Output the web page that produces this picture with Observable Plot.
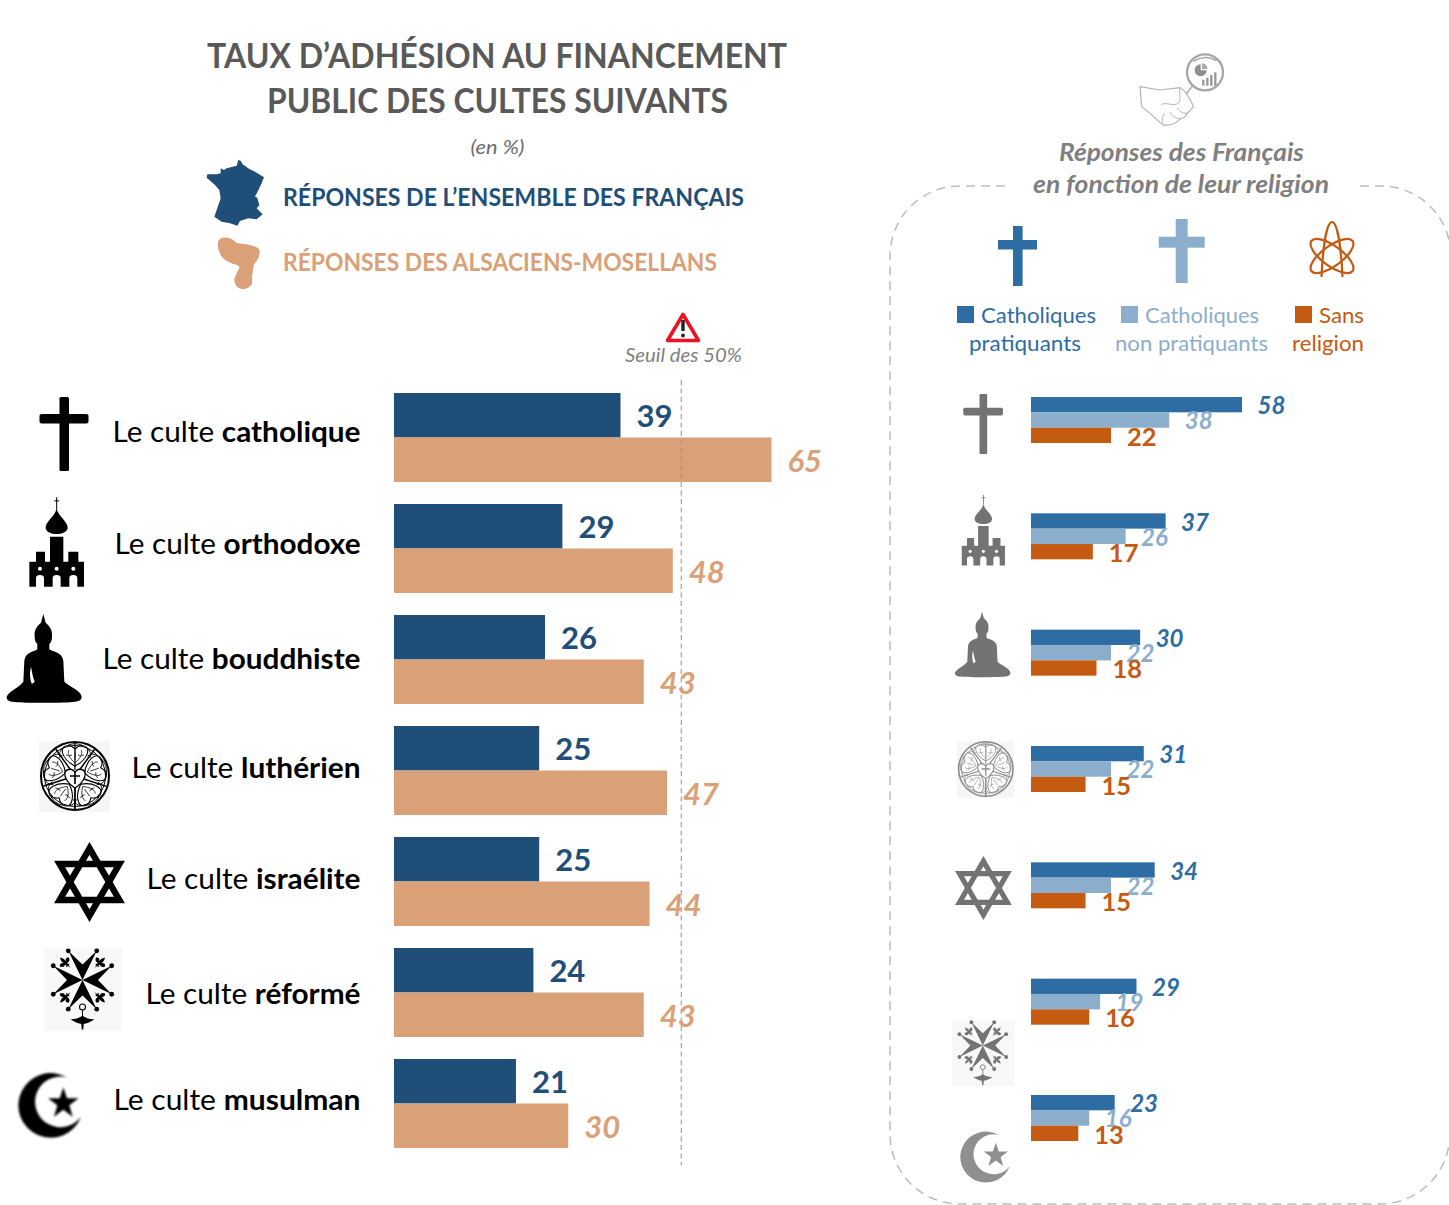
<!DOCTYPE html>
<html lang="fr">
<head>
<meta charset="utf-8">
<script src="https://cdn.jsdelivr.net/npm/d3@7"></script>
<script src="https://cdn.jsdelivr.net/npm/@observablehq/plot@0.6"></script>
<style>
html,body{margin:0;padding:0;background:#fff;}
#stage{position:relative;width:1449px;height:1205px;overflow:hidden;font-family:Lato,sans-serif;}
#stage>svg,#stage>div{position:absolute;left:0;top:0;}
</style>
</head>
<body>
<div id="stage"></div>
<script>
// ---------- data ----------
const cultes = ["catholique","orthodoxe","bouddhiste","luthérien","israélite","réformé","musulman"];
const ensembleFrancais = [39,29,26,25,25,24,21];
const alsaciensMosellans = [65,48,43,47,44,43,30];
const catholiquesPratiquants = [58,37,30,31,34,29,23];
const catholiquesNonPratiquants = [38,26,22,22,22,19,16];
const sansReligion = [22,17,18,15,15,16,13];
const seuil = [50];

const DARK="#1F4E79", TAN="#DAA077", BLUE="#2E6DA4", LIGHT="#8BAECD", ORANGE="#C55A11";
const FONT="Lato, sans-serif";
const stage=document.getElementById("stage");

// ---------- left chart ----------
const rowsFr = cultes.map((c,i)=>({c,v:ensembleFrancais[i]}));
const rowsAl = cultes.map((c,i)=>({c,v:alsaciensMosellans[i]}));
const rowLabels = cultes.map(c=>({c,label:"Le culte "+c}));
const yLeft={type:"band",domain:cultes,range:[393,1148],paddingInner:22/111,paddingOuter:0,align:0,round:false,axis:null};
const labelShift=[-5,-4,0,-2,-2,2,-3];
const labelWidth=[248,246,258,229,214,215,247];

const left=Plot.plot({
  width:1449,height:1205,marginTop:380,marginBottom:40,marginLeft:0,marginRight:0,
  style:{background:"transparent",fontFamily:FONT,overflow:"visible"},
  x:{domain:[0,65],range:[394,771.5],axis:null},
  y:yLeft,
  marks:[
    Plot.barX(rowsFr,{x:"v",y:"c",fill:DARK,insetBottom:44.5}),
    Plot.barX(rowsAl,{x:"v",y:"c",fill:TAN,insetTop:44.5}),
    Plot.ruleX(seuil,{x:d=>d,stroke:"#9a9a9a",strokeWidth:1.1,strokeDasharray:"5 3.5",dx:-3.6}),
    Plot.text(rowsFr,{x:"v",y:"c",text:d=>String(d.v),fill:DARK,textAnchor:"start",dx:15.5,dy:-20.5,fontSize:31,fontWeight:700}),
    Plot.text(rowsAl,{x:"v",y:"c",text:d=>String(d.v),fill:TAN,textAnchor:"start",dx:15.5,dy:24.5,fontSize:31,fontWeight:700,fontStyle:"italic"}),
    ...rowLabels.map((d,i)=>Plot.text([d],{
      x:()=>0,y:"c",text:"label",fill:"#000",textAnchor:"end",dx:360-394,dy:labelShift[i],fontSize:29
    }))
  ]
});
stage.appendChild(left);
// bold religion name inside each row label
left.querySelectorAll('text').forEach(t=>{
  const s=t.textContent, k="Le culte ";
  if(!s.startsWith(k)) return;
  t.textContent="";
  const a=document.createElementNS("http://www.w3.org/2000/svg","tspan");a.textContent=k;
  const b=document.createElementNS("http://www.w3.org/2000/svg","tspan");b.textContent=s.slice(k.length);b.setAttribute("font-weight","700");
  t.append(a,b);
  const i=cultes.indexOf(s.slice(k.length));
  t.setAttribute("textLength",labelWidth[i]);t.setAttribute("lengthAdjust","spacingAndGlyphs");
});

// ---------- right chart ----------
const rowsP = cultes.map((c,i)=>({c,v:catholiquesPratiquants[i]}));
const rowsN = cultes.map((c,i)=>({c,v:catholiquesNonPratiquants[i]}));
const rowsS = cultes.map((c,i)=>({c,v:sansReligion[i]}));
const right=Plot.plot({
  width:1449,height:1205,marginTop:372,marginBottom:40,marginLeft:0,marginRight:0,
  style:{background:"transparent",fontFamily:FONT,overflow:"visible"},
  x:{domain:[0,58],range:[1031,1242],axis:null},
  y:{type:"band",domain:cultes,range:[397,1141],paddingInner:70.3/116.3,paddingOuter:0,align:0,round:false,axis:null},
  marks:[
    Plot.barX(rowsP,{x:"v",y:"c",fill:BLUE,insetBottom:30.7}),
    Plot.barX(rowsN,{x:"v",y:"c",fill:LIGHT,insetTop:15.3,insetBottom:15.3}),
    Plot.barX(rowsS,{x:"v",y:"c",fill:ORANGE,insetTop:30.7}),
    Plot.text(rowsP,{x:"v",y:"c",text:d=>String(d.v),fill:BLUE,textAnchor:"start",dx:15,dy:-14,fontSize:24,fontWeight:700,fontStyle:"italic"}),
    Plot.text(rowsN,{x:"v",y:"c",text:d=>String(d.v),fill:LIGHT,textAnchor:"start",dx:15,dy:1,fontSize:24,fontWeight:700,fontStyle:"italic"}),
    Plot.text(rowsS,{x:"v",y:"c",text:d=>String(d.v),fill:ORANGE,textAnchor:"start",dx:15.5,dy:17,fontSize:25.5,fontWeight:700})
  ]
});
stage.appendChild(right);

// ---------- decoration: texts and pictograms ----------
function txt(s,x,y,size,fill,o={}){
  const len=o.w?`textLength="${o.w}" lengthAdjust="spacingAndGlyphs"`:"";
  return `<text x="${x}" y="${y}" font-size="${size}" fill="${fill}" font-weight="${o.b?700:400}" font-style="${o.i?"italic":"normal"}" text-anchor="${o.a||"start"}" ${len}>${s}</text>`;
}
const ic={};
ic.cross=`<rect x="59.5" y="397" width="9.5" height="74" rx="1.5"/><rect x="39.5" y="414" width="49" height="9.5" rx="2"/>`;
ic.church=`<g transform="translate(0,380) scale(.3333)">
<path d="M88 620V545H108V515H135V545H150V470H190V545H205V515H235V545H252V620H232V595Q232 585 220 585Q208 585 208 595V620H182V595Q182 585 170 585Q158 585 158 595V620H132V595Q132 585 120 585Q108 585 108 595V620Z"/>
<path d="M170 385C174 410 205 425 203 445C200 468 140 468 137 445C135 425 166 410 170 385Z"/>
<rect x="168.5" y="352" width="3" height="36"/><rect x="163" y="361" width="14" height="3"/>
<circle cx="120" cy="566" r="6" fill="#fff"/><circle cx="170" cy="566" r="6" fill="#fff"/><circle cx="220" cy="566" r="6" fill="#fff"/></g>`;
ic.buddha=`<g transform="translate(0,380) scale(.3333)"><path fill-rule="evenodd" d="M130 702L137 728C148 738 158 748 156 770C156 782 152 788 148 792L148 808C160 816 186 816 190 842L193 905C205 918 242 930 245 950C245 966 230 968 130 968C30 968 20 966 20 950C25 935 58 922 70 905L73 842C77 816 100 816 112 808L112 792C108 788 104 782 104 770C102 748 112 738 123 728Z M93 860C88 880 90 900 96 912L104 905C98 890 96 875 93 860Z"/></g>`;
ic.luther=(()=>{let p="";
  for(let k=0;k<5;k++){const r=k*72;
    p+=`<g transform="rotate(${r} 75 776)" fill="none" stroke="currentColor">
    <path d="M75 776L94.5 749.5" stroke-width="1.5"/>
    <path d="M75 766C63 760 60 750 64 747C68 744 72 746 75 749C78 746 82 744 86 747C90 750 87 760 75 766Z" stroke-width="1.1"/>
    <path d="M75 763C69 758 67 752 69 750M75 763C81 758 83 752 81 750M75 760V751M66 755Q70 757 72 755M84 755Q80 757 78 755" stroke-width=".7"/>
    <path d="M63 748Q58 752 60 758M87 748Q92 752 90 758M68 745Q75 742 82 745" stroke-width=".8"/></g>`;}
  return `<rect x="39" y="741" width="71" height="71" fill="#f6f6f6"/><circle cx="75" cy="776" r="34" fill="#fff" stroke="currentColor" stroke-width="2"/><circle cx="75" cy="776" r="30.5" fill="none" stroke="currentColor" stroke-width="1"/>${p}<path d="M75 788C64 781 63 772 67 770C71 768 73 770 75 772C77 770 79 768 83 770C87 772 86 781 75 788Z" fill="#fff" stroke="currentColor" stroke-width="1.4"/><path d="M75 771V784M70 776H80" stroke="currentColor" stroke-width="1.6"/><path d="M75 742V770M75 788V810" stroke="currentColor" stroke-width="1.2"/>`;
})();
ic.star=`<g fill="none" stroke="currentColor" stroke-width="6.4"><path d="M89.5 848.4L119.4 900H59.6Z"/><path d="M89.5 915.6L119.4 864H59.6Z"/></g>`;
ic.huguenot=(()=>{let p="";
  const pol=(r,a)=>[r*Math.sin(a*Math.PI/180),-r*Math.cos(a*Math.PI/180)];
  for(const a of [0,90,180,270]){
    const t1=pol(32.5,a-26),n=pol(15.5,a),t2=pol(32.5,a+26);
    p+=`<path d="M0 0L${t1}L${n}L${t2}Z"/><circle cx="${t1[0]}" cy="${t1[1]}" r="2.4"/><circle cx="${t2[0]}" cy="${t2[1]}" r="2.4"/>`;
    const f=pol(24.5,a+45);
    p+=`<g transform="translate(${f}) rotate(${a+45}) scale(1.05)"><path d="M0 -7Q2.6 -3 1 -.5Q4 -4 6 -1Q5 2.5 1.2 1.6L.8 3H2V4H.6L0 7L-.6 4H-2V3H-.8L-1.2 1.6Q-5 2.5 -6 -1Q-4 -4 -1 -.5Q-2.6 -3 0 -7Z"/></g>`;
  }
  return `<rect x="44" y="948" width="78" height="83" fill="#f8f8f8"/><g transform="translate(82.5,980)">${p}<circle cy="27" r="3" fill="none" stroke="currentColor" stroke-width="1.1"/><path d="M0 30V36" stroke="currentColor" stroke-width="1"/><path transform="translate(0,42)" d="M-12 -2.5Q-4 -3 0 -6.5Q4 -3 12 -2.5Q5 1.5 1.2 2L.8 7.5L-.8 7.5L-1.2 2Q-5 1.5 -12 -2.5Z"/></g>`;
})();
ic.crescent=`<g transform="translate(0,800) scale(.3333)" filter="url(#soft)"><path d="M200 832A97 97 0 1 0 243 950A76 76 0 1 1 200 832Z"/><path d="M190 862L201 895L236 895L208 916L218 950L190 929L162 950L172 916L144 895L179 895Z"/></g>`;

const iconRows=[
 ["cross",.81,931.3,72.4,"#737373"],["church",.79,938.6,102.1,"#737373"],["buddha",.74,950,157.3,"#737373"],
 ["luther",.8,925.8,148.2,"#8a8a8a"],["star",.8,911.8,182.4,"#737373"],["huguenot",.8,916.8,261.6,"#737373"],["crescent",.79,945.8,283.8,"#8f8f8f"]
];
const leftIcons=Object.keys(ic).map(k=>`<g fill="currentColor" color="#000">${ic[k]}</g>`).join("");
const rightIcons=iconRows.map(([k,s,tx,ty,col])=>`<g fill="currentColor" color="${col}" transform="translate(${tx},${ty}) scale(${s})">${ic[k]}</g>`).join("");

const francePts=[[115,15],[122,17],[128,28],[148,42],[165,50],[192,67],[185,85],[178,100],[165,125],[172,128],[178,150],[170,160],[188,178],[170,193],[145,190],[120,198],[112,212],[90,205],[65,200],[43,185],[50,165],[62,130],[58,105],[45,90],[20,68],[22,58],[50,58],[62,55],[62,40],[72,45],[80,40],[110,32]];
const alsacePts=[[55,258],[68,248],[90,250],[112,264],[140,268],[177,283],[175,310],[163,328],[156,370],[155,388],[135,402],[113,397],[103,375],[112,350],[118,335],[95,325],[68,308],[56,285]];
const francePath=d3.line()(francePts)+"Z";
const alsacePath=d3.line().curve(d3.curveCatmullRomClosed)(alsacePts);

const overlay=`<svg xmlns="http://www.w3.org/2000/svg" width="1449" height="1205" style="font-family:${FONT}">
<defs><filter id="soft" x="-10%" y="-10%" width="120%" height="120%"><feGaussianBlur stdDeviation="3"/></filter></defs>
${txt("TAUX D’ADHÉSION AU FINANCEMENT",207,67.5,34,"#595959",{b:1,w:580})}
${txt("PUBLIC DES CULTES SUIVANTS",267,112.5,34,"#595959",{b:1,w:461})}
${txt("(en %)",497.5,154,19,"#6b6b6b",{i:1,a:"middle",w:54})}
<g transform="translate(200,155) scale(.3333)">
<path d="${francePath}" fill="${DARK}"/>
<path d="${alsacePath}" fill="${TAN}"/></g>
${txt("RÉPONSES DE L’ENSEMBLE DES FRANÇAIS",283,206,24,DARK,{b:1,w:461})}
${txt("RÉPONSES DES ALSACIENS-MOSELLANS",283,271,24,TAN,{b:1,w:434})}
<path d="M683 314.5L698.5 340.5H667.5Z" fill="#fff" stroke="#ee1122" stroke-width="3.6" stroke-linejoin="round"/>
<path d="M683 320V331" stroke="#222" stroke-width="3.4"/><circle cx="683" cy="335.5" r="1.9" fill="#222"/>
${txt("Seuil des 50%",625,362,19,"#7f7f7f",{i:1,w:117})}

<g transform="translate(1130,45) scale(.3333)" fill="none" stroke="#b4b4b4" stroke-width="3.5" stroke-linejoin="round" stroke-linecap="round">
<path d="M188 122L168 148" stroke-width="5"/>
<path d="M30 125L90 135L150 128C165 135 172 150 178 160L190 182C186 195 178 200 172 204C168 214 160 220 150 222C140 235 120 242 100 240C88 232 72 215 60 205L35 185Z" fill="#fff"/>
<path d="M150 128C146 145 155 165 145 175C130 185 105 170 95 178M172 204C162 208 150 200 142 190M150 222C140 222 125 212 120 202M100 240C95 228 95 215 105 205" stroke-width="3"/>
<circle cx="225" cy="82" r="54" fill="#fff" stroke="#a6a6a6" stroke-width="7"/>
<path d="M192 48Q225 28 258 46" stroke="#a8a8a8" stroke-width="5"/>
</g>
<g transform="translate(1130,45) scale(.3333)">
<path d="M212 58A18 18 0 1 0 230 76H212Z" fill="#8f8f8f"/><path d="M216 55L216 72L233 72A18 18 0 0 0 216 55Z" fill="#a8a8a8"/>
<path d="M220 122V104M232 122V98M244 122V90M256 122V82" stroke="#999" stroke-width="7"/></g>
${txt("Réponses des Français",1059,161,24,"#7f7f7f",{b:1,i:1,w:245})}
${txt("en fonction de leur religion",1033,193,24,"#7f7f7f",{b:1,i:1,w:296})}
<path d="M1005 186H960A70 70 0 0 0 890 256V1134A70 70 0 0 0 960 1204H1380A70 70 0 0 0 1449 1145M1360 186H1380A70 70 0 0 1 1449 240" fill="none" stroke="#bdbdbd" stroke-width="1.5" stroke-dasharray="9 6"/>

<rect x="1013" y="226" width="9.6" height="60" fill="${BLUE}"/><rect x="998" y="240" width="39" height="9.5" fill="${BLUE}"/>
<rect x="1175.7" y="219" width="12" height="64" fill="${LIGHT}"/><rect x="1158.7" y="236.7" width="46" height="11" fill="${LIGHT}"/>
<g fill="none" stroke="${ORANGE}" stroke-width="2.2">
<path d="M1321.5 277C1323 245 1327 222 1332 222C1337 222 1341 245 1342.5 277"/>
<ellipse cx="1332" cy="256" rx="25.5" ry="10" transform="rotate(36 1332 256)"/>
<ellipse cx="1332" cy="256" rx="25.5" ry="10" transform="rotate(-36 1332 256)"/>
</g>
<rect x="957" y="306" width="17" height="17" fill="${BLUE}"/>
<rect x="1121" y="306" width="17" height="17" fill="${LIGHT}"/>
<rect x="1295" y="306" width="17" height="17" fill="${ORANGE}"/>
${txt("Catholiques",981,323,22,BLUE,{w:115})}
${txt("pratiquants",969,351,22,BLUE,{w:112})}
${txt("Catholiques",1145,323,22,LIGHT,{w:114})}
${txt("non pratiquants",1115,351,22,LIGHT,{w:153})}
${txt("Sans",1319,323,22,ORANGE,{w:45})}
${txt("religion",1292,351,22,ORANGE,{w:72})}
${leftIcons}
${rightIcons}
</svg>`;
stage.insertAdjacentHTML("beforeend",overlay);
</script>
</body>
</html>
